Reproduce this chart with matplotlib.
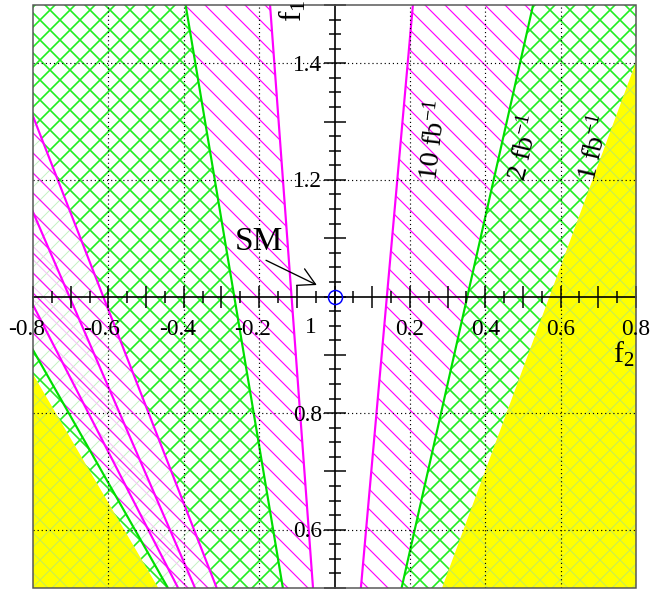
import numpy as np
import matplotlib
matplotlib.use("Agg")
import matplotlib.pyplot as plt
from matplotlib.patches import Polygon, Rectangle
from matplotlib.ticker import MultipleLocator

plt.rcParams['font.family'] = ['Liberation Serif', 'DejaVu Serif']
plt.rcParams['mathtext.fontset'] = 'custom'
plt.rcParams['mathtext.rm'] = 'Liberation Serif'
plt.rcParams['mathtext.it'] = 'Liberation Serif:italic'
plt.rcParams['mathtext.bf'] = 'Liberation Serif:bold'

# ---------------- data ----------------
# each boundary line given by its f2 value at f1 = 1.5 (top) and f1 = 0.5 (bottom)
f1_ends = [1.5, 0.5]
line_r10 = [0.208, 0.070]     # right edge of 10 fb^-1 allowed region
line_r2 = [0.527, 0.178]      # right edge of 2 fb^-1 region
line_r1 = [0.857, 0.284]      # right edge of 1 fb^-1 region (yellow beyond)
line_l10 = [-0.171, -0.057]   # left edge of 10 fb^-1 region
line_l2 = [-0.395, -0.137]    # left edge of 2 fb^-1 region
# second branch (lower left)
line_m1 = [-0.915, -0.3125]
line_m2 = [-1.037, -0.370]
line_m3 = [-1.208, -0.415]
line_g1 = [-1.319, -0.442]
line_y1 = [-1.374, -0.4675]
far_left = [-2.0, -2.0]
far_right = [2.0, 2.0]

xtick_vals = [-0.8, -0.6, -0.4, -0.2, 0.2, 0.4, 0.6, 0.8]
ytick_vals = [0.6, 0.8, 1.2, 1.4]
grid_x = [-0.6, -0.4, -0.2, 0.2, 0.4, 0.6]
grid_y = [0.6, 0.8, 1.2, 1.4]
sm_point = (0.0, 1.0)
lumi_labels = [r"10 fb$^{-1}$", r"2 fb$^{-1}$", r"1 fb$^{-1}$"]
lumi_pos = [(0.263, 1.268), (0.502, 1.256), (0.689, 1.256)]
lumi_rot = [83, 77, 77]

# ---------------- figure ----------------
DPI = 120
fig = plt.figure(figsize=(653 / DPI, 593 / DPI), dpi=DPI)
ax = fig.add_axes([33 / 653, 5 / 593, 603 / 653, 583 / 593])
ax.set_xlim(-0.8, 0.8)
ax.set_ylim(0.5, 1.5)

MAG = '#ff00ff'
GRN = '#22ee22'
GRN_LINE = '#00dd00'
YEL = '#ffff00'


def band(left, right):
    return [(left[0], f1_ends[0]), (right[0], f1_ends[0]),
            (right[1], f1_ends[1]), (left[1], f1_ends[1])]


def add_patch(verts, z, face='none', hatch=None, hcolor='none', hlw=1.0):
    plt.rcParams['hatch.linewidth'] = hlw
    p = Polygon(verts, closed=True, facecolor=face, edgecolor=hcolor,
                linewidth=0, hatch=hatch, zorder=z)
    if hasattr(p, 'set_hatch_linewidth'):
        p.set_hatch_linewidth(hlw)
    ax.add_patch(p)
    return p


# green cross-hatched regions (2 fb^-1)
add_patch(band(far_left, line_l2), 1.0, hatch='xx', hcolor=GRN, hlw=1.0)
add_patch(band(line_r2, far_right), 1.0, hatch='xx', hcolor=GRN, hlw=1.0)
# yellow region right
add_patch(band(line_r1, far_right), 1.1, face=YEL)
add_patch(band(line_r1, far_right), 1.15, hatch='xx', hcolor='#c4ec5a', hlw=0.6)
# second branch lower left
add_patch(band(line_g1, line_m1), 1.1, face='white')
add_patch(band(line_g1, line_m1), 1.15, hatch='xx', hcolor='#c4f2c4', hlw=0.6)
add_patch(band(line_m3, line_m2), 1.2, hatch='\\\\\\', hcolor='#f4c4f4', hlw=0.6)
add_patch(band(line_g1, line_m1), 1.3, hatch='\\\\', hcolor=MAG, hlw=0.7)
# magenta hatched regions (10 fb^-1)
add_patch(band(line_r10, line_r2), 1.1, face='white')
add_patch(band(line_r10, line_r2), 1.3, hatch='\\\\', hcolor=MAG, hlw=0.7)
add_patch(band(line_l2, line_l10), 1.1, face='white')
add_patch(band(line_l2, line_l10), 1.3, hatch='\\\\', hcolor=MAG, hlw=0.7)
# yellow lower left
add_patch(band(far_left, line_y1), 1.4, face=YEL)
add_patch(band(far_left, line_y1), 1.45, hatch='xx', hcolor='#c4ec5a', hlw=0.6)

# boundary lines
for ln, col in [(line_r10, MAG), (line_l10, MAG), (line_m1, MAG), (line_m2, MAG),
                (line_m3, MAG), (line_r2, GRN_LINE), (line_l2, GRN_LINE),
                (line_g1, GRN_LINE)]:
    ax.plot(ln, f1_ends, color=col, lw=1.3, zorder=2, solid_capstyle='butt')

# dotted grid
for gx in grid_x:
    ax.axvline(gx, color='black', lw=0.7, ls=(0, (1, 2.5)), zorder=2.2)
for gy in grid_y:
    ax.axhline(gy, color='black', lw=0.7, ls=(0, (1, 2.5)), zorder=2.2)

# central axes via spines
for s in ['top', 'right']:
    ax.spines[s].set_visible(False)
ax.spines['left'].set_position(('data', 0.0))
ax.spines['bottom'].set_position(('data', 1.0))
for s in ['left', 'bottom']:
    ax.spines[s].set_linewidth(1.0)
    ax.spines[s].set_color('black')
    ax.spines[s].set_zorder(2.6)
ax.xaxis.set_major_locator(MultipleLocator(0.1))
ax.xaxis.set_minor_locator(MultipleLocator(0.05))
ax.yaxis.set_major_locator(MultipleLocator(0.1))
ax.yaxis.set_minor_locator(MultipleLocator(0.025))
ax.tick_params(which='major', direction='inout', length=13, width=0.9, color='black',
               labelbottom=False, labelleft=False)
ax.tick_params(which='minor', direction='inout', length=7.5, width=0.9, color='black')
ax.set_axisbelow(False)

# outer frame
ax.add_patch(Rectangle((0, 0), 1, 1, transform=ax.transAxes, fill=False,
                       edgecolor='#555555', lw=0.9, zorder=5, clip_on=False))

# tick labels
for v in xtick_vals:
    dx = -3.9 if v < 0 else 0.0
    ax.annotate(f"{v:.1f}", xy=(v, 1.0), xytext=(dx, -23), textcoords='offset points',
                ha='center', va='baseline', fontsize=14, zorder=6, annotation_clip=False)
for v in ytick_vals:
    ax.annotate(f"{v:.1f}", xy=(0.0, v), xytext=(-7.5, -4.5), textcoords='offset points',
                ha='right', va='baseline', fontsize=14, zorder=6)
ax.annotate("1", xy=(0.0, 1.0), xytext=(-10.5, -21.8), textcoords='offset points',
            ha='right', va='baseline', fontsize=14, zorder=6)

# axis titles
fig.text(613 / 653, 1 - 363 / 593, r"f$_2$", fontsize=18, ha='left', va='baseline')
fig.text(301 / 653, 1 - 22 / 593, r"f$_1$", fontsize=19, ha='left', va='baseline',
         rotation=90, rotation_mode='anchor')

# SM point and label
ax.plot([sm_point[0]], [sm_point[1]], marker='o', ms=8.4, mfc='none', mec='#0000ff',
        mew=0.9, zorder=7, clip_on=False)
ax.annotate("SM", xy=(-0.047, 1.0197), xytext=(-0.264, 1.0798), textcoords='data',
            fontsize=20, ha='left', va='baseline', zorder=7,
            arrowprops=dict(arrowstyle='->,head_length=1.0,head_width=0.55',
                            mutation_scale=10, lw=0.8, color='black',
                            shrinkA=0, shrinkB=0, relpos=(0.5, 0.0)))

# luminosity labels
for txt, pos, rot in zip(lumi_labels, lumi_pos, lumi_rot):
    ax.text(pos[0], pos[1], txt, fontsize=17, rotation=rot, rotation_mode='anchor',
            ha='center', va='center', zorder=7)

fig.savefig("out.png", dpi=DPI)
